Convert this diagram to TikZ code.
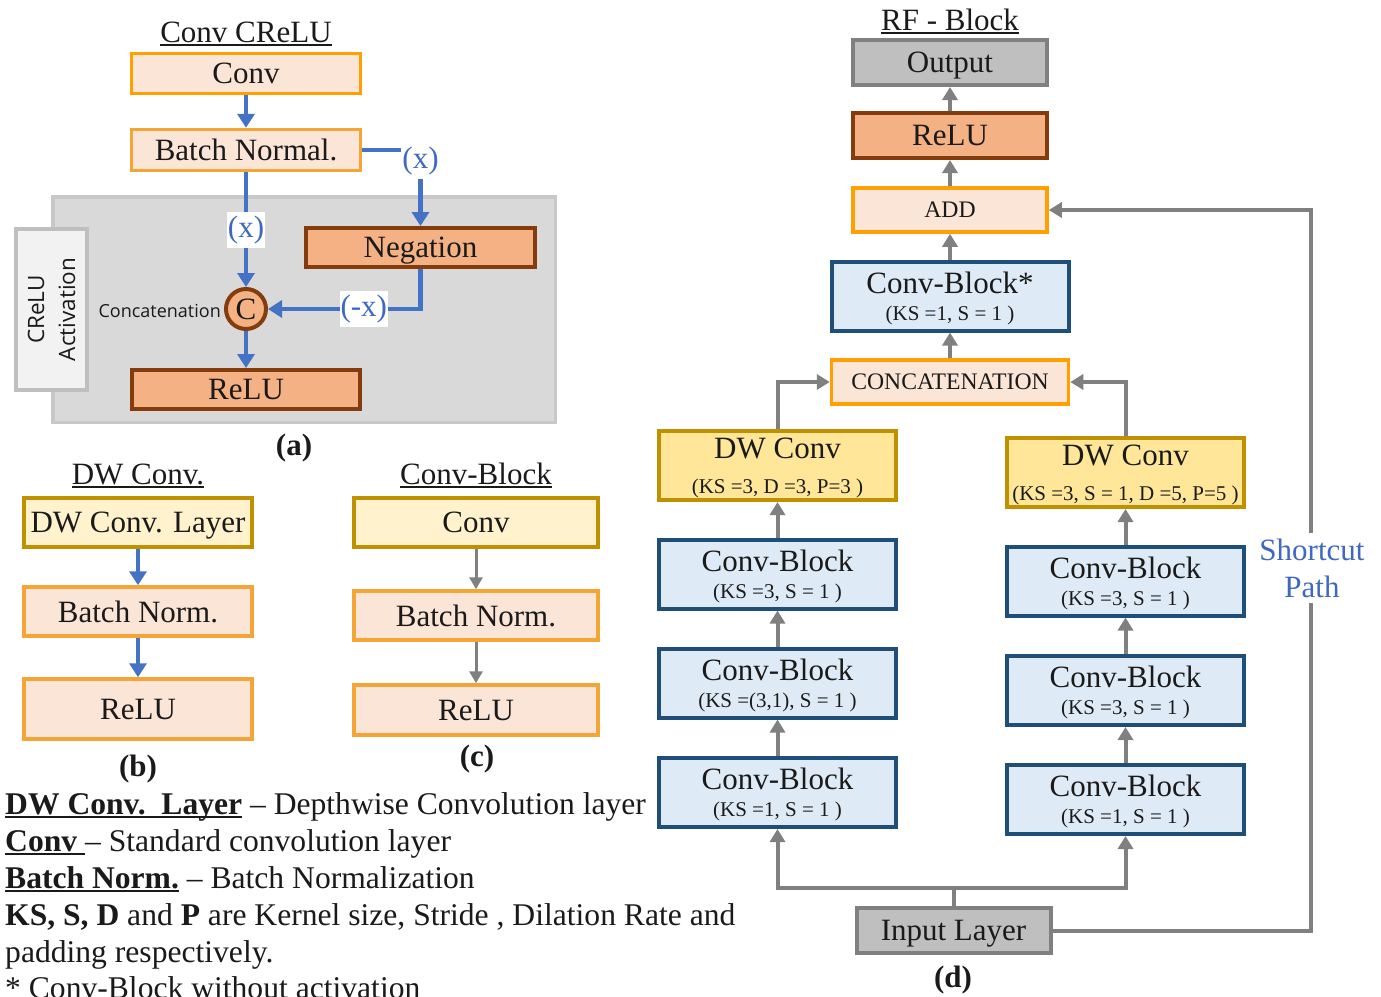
\documentclass[tikz,border=0pt]{standalone}
\usepackage{fontspec}
\setmainfont{Liberation Serif}
\newfontfamily\osans{Open Sans}
\usetikzlibrary{arrows.meta}
\definecolor{peach}{HTML}{FBE5D6}
\definecolor{orA}{HTML}{FFA000}
\definecolor{orB}{HTML}{F4A536}
\definecolor{salmon}{HTML}{F4B183}
\definecolor{brn}{HTML}{843C0C}
\definecolor{lyel}{HTML}{FFF2CC}
\definecolor{dyel}{HTML}{FFE699}
\definecolor{gold}{HTML}{BF9000}
\definecolor{lblue}{HTML}{DEEBF7}
\definecolor{dblue}{HTML}{1F4E79}
\definecolor{gfill}{HTML}{BFBFBF}
\definecolor{gline}{HTML}{808080}
\definecolor{arrblue}{HTML}{4472C4}
\definecolor{lblu}{HTML}{3F69BF}
\definecolor{pnl}{HTML}{D9D9D9}
\definecolor{pnlb}{HTML}{C8C8C8}
\definecolor{crf}{HTML}{F2F2F2}
\definecolor{crb}{HTML}{BFBFBF}
\definecolor{txt}{HTML}{1A1A1A}
\newcommand\fM{\fontsize{31}{37}\selectfont}
\newcommand\fL{\fontsize{31.6}{37}\selectfont}
\newcommand\fS{\fontsize{21}{25}\selectfont}
\newcommand\fC{\fontsize{23.7}{28}\selectfont}
\newcommand\fCB{\fontsize{31}{27}\selectfont}
\newcommand\fDW{\fontsize{31}{35}\selectfont}
\newsavebox\ulbox
\newcommand\myul[1]{\sbox\ulbox{#1}\rlap{\rule[-3.6pt]{\wd\ulbox}{1.8pt}}\usebox\ulbox}
\begin{document}
\begin{tikzpicture}[x=1pt,y=-1pt,
  bx/.style={rectangle, inner sep=0pt, line width=3.5pt, font=\fM, text=txt, text depth=0pt},
  peA/.style={bx, fill=peach, draw=orA},
  peB/.style={bx, fill=peach, draw=orB},
  sal/.style={bx, fill=salmon, draw=brn, line width=4pt},
  ly/.style={bx, fill=lyel, draw=gold},
  dy/.style={bx, fill=dyel, draw=gold, line width=4pt, align=center, font=\fDW},
  cb/.style={bx, fill=lblue, draw=dblue, line width=4pt, align=center, font=\fCB},
  gb/.style={bx, fill=gfill, draw=gline, line width=4pt},
  barr/.style={draw=arrblue, line width=4.5pt, -{Triangle[width=17pt,length=14pt]}},
  garr/.style={draw=gline, line width=4pt, -{Triangle[width=15pt,length=13pt]}},
  garrs/.style={draw=gline, line width=3pt, -{Triangle[width=13pt,length=12pt]}},
  bl/.style={fill=white, text=lblu, font=\fM, inner xsep=1pt, inner ysep=4pt},
  ttl/.style={font=\fM, anchor=base, text=txt, inner sep=0pt},
  capt/.style={font=\fM\bfseries, anchor=base, text=txt, inner sep=0pt},
  leg/.style={font=\fL, anchor=base west, inner sep=0pt, text=txt},
]
\useasboundingbox (0,0) rectangle (1381,996);

% ---------------- (a) ----------------
\node[ttl] (t1) at (246,42) {\myul{Conv CReLU}};
\node[draw=pnlb, fill=pnl, line width=3.5pt, minimum width=502.5, minimum height=225.5, inner sep=0pt] (pan) at (304,309.5) {};
\node[draw=crb, fill=crf, line width=4pt, minimum width=161, minimum height=71, inner sep=0pt,
      rotate=90, align=center, font=\osans\fontsize{22.5}{31}\selectfont, text=txt] (crelu) at (51.5,309.5) {CReLU\\Activation};
\node[peA, minimum width=229, minimum height=40] (conv) at (246,73.5) {Conv};
\node[peB, minimum width=229, minimum height=41] (bn) at (246,150) {Batch Normal.};
\node[sal, minimum width=229, minimum height=39] (neg) at (420.5,247.5) {Negation};
\node[circle, fill=salmon, draw=brn, line width=4pt, minimum size=40, inner sep=0pt, font=\fM, text=txt] (cc) at (246,309) {C};
\node[font=\osans\fontsize{18}{22}\selectfont, anchor=east, inner sep=0pt, text=txt] (cl) at (221,311) {Concatenation};
\node[sal, minimum width=228, minimum height=39] (relua) at (246,389.5) {ReLU};
\draw[barr] (conv) -- (bn);
\draw[barr] (bn) -- node[bl]{(x)} (cc);
\draw[barr] (bn.east) -| node[bl, pos=0.5, yshift=-11pt]{(x)} (neg.north);
\draw[barr] (neg.south) |- node[bl, pos=0.686]{(-x)} (cc.east);
\draw[barr] (cc) -- (relua);
\node[capt] (la) at (294,455) {(a)};

% ---------------- (b) ----------------
\node[ttl] (t2) at (138,484) {\myul{DW Conv.}};
\node[ly, minimum width=228, minimum height=49] (dwl) at (138,522.5) {DW Conv. Layer};
\node[peB, minimum width=228, minimum height=49] (bnb) at (138,611.5) {Batch Norm.};
\node[peB, minimum width=228, minimum height=60] (relub) at (138,709) {ReLU};
\draw[barr] (dwl) -- (bnb);
\draw[barr] (bnb) -- (relub);
\node[capt] (lb) at (138,776) {(b)};

% ---------------- (c) ----------------
\node[ttl] (t3) at (476,484) {\myul{Conv-Block}};
\node[ly, minimum width=244, minimum height=49] (convc) at (476,522.5) {Conv};
\node[peB, minimum width=244, minimum height=49] (bnc) at (476,615.5) {Batch Norm.};
\node[peB, minimum width=244, minimum height=50] (reluc) at (476,710) {ReLU};
\draw[garrs] (convc) -- (bnc);
\draw[garrs] (bnc) -- (reluc);
\node[capt] (lc) at (477,766) {(c)};

% ---------------- legend ----------------
\node[leg] (lg1) at (5,814) {\myul{\textbf{DW Conv.\ \ Layer}} – Depthwise Convolution layer};
\node[leg] (lg2) at (5,851) {\myul{\textbf{Conv}\ }– Standard convolution layer};
\node[leg] (lg3) at (5,888) {\myul{\textbf{Batch Norm.}} – Batch Normalization};
\node[leg] (lg4) at (5,925) {\textbf{KS, S, D} and \textbf{P} are Kernel size, Stride , Dilation Rate and};
\node[leg] (lg5) at (5,962) {padding respectively.};
\node[leg] (lg6) at (5,998) {* Conv-Block without activation};

% ---------------- (d) ----------------
\node[ttl] (t4) at (950,30) {\myul{RF - Block}};
\node[gb, minimum width=194, minimum height=45] (out) at (950,62.5) {Output};
\node[sal, minimum width=194, minimum height=45] (relud) at (950,135.5) {ReLU};
\node[peA, minimum width=194, minimum height=44, font=\fC] (add) at (950,210) {ADD};
\node[cb, minimum width=237, minimum height=69] (cbs) at (950,296) {Conv-Block*\\{\fS (KS =1, S = 1 )}};
\node[peA, minimum width=237, minimum height=44, font=\fC] (cat) at (950,382) {CONCATENATION};
\node[dy, minimum width=237, minimum height=69] (dwL) at (777.5,465.5) {DW Conv\\{\fS (KS =3, D =3, P=3 )}};
\node[dy, minimum width=237, minimum height=69] (dwR) at (1125.5,472.5) {DW Conv\\{\fS (KS =3, S = 1, D =5, P=5 )}};
\node[cb, minimum width=237, minimum height=69] (L1) at (777.5,574) {Conv-Block\\{\fS (KS =3, S = 1 )}};
\node[cb, minimum width=237, minimum height=69] (L2) at (777.5,683) {Conv-Block\\{\fS (KS =(3,1), S = 1 )}};
\node[cb, minimum width=237, minimum height=69] (L3) at (777.5,792.5) {Conv-Block\\{\fS (KS =1, S = 1 )}};
\node[cb, minimum width=237, minimum height=69] (R1) at (1125.5,581) {Conv-Block\\{\fS (KS =3, S = 1 )}};
\node[cb, minimum width=237, minimum height=69] (R2) at (1125.5,690.5) {Conv-Block\\{\fS (KS =3, S = 1 )}};
\node[cb, minimum width=237, minimum height=69] (R3) at (1125.5,799.5) {Conv-Block\\{\fS (KS =1, S = 1 )}};
\node[gb, minimum width=194, minimum height=45] (inp) at (953.5,930.5) {Input Layer};
\node[capt] (ld) at (953,987) {(d)};

\coordinate (jn) at (953.5,888);
\coordinate (scc) at (1311,210);
\draw[draw=gline, line width=4pt] (inp) -- (jn);
\draw[garr] (jn) -| (L3);
\draw[garr] (jn) -| (R3);
\draw[garr] (L3) -- (L2);
\draw[garr] (L2) -- (L1);
\draw[garr] (L1) -- (dwL);
\draw[garr] (R3) -- (R2);
\draw[garr] (R2) -- (R1);
\draw[garr] (R1) -- (dwR);
\draw[garr] (dwL) |- (cat);
\draw[garr] (dwR) |- (cat);
\draw[garr] (cat) -- (cbs);
\draw[garr] (cbs) -- (add);
\draw[garr] (add) -- (relud);
\draw[garr] (relud) -- (out);
\draw[garr] (inp.east) -| (scc) -- (add.east);
\node[fill=white, text=lblu, align=center, font=\fontsize{31}{37}\selectfont, inner xsep=2pt, inner ysep=6pt] (scl) at (1312,568) {Shortcut\\Path};
\end{tikzpicture}
\end{document}
